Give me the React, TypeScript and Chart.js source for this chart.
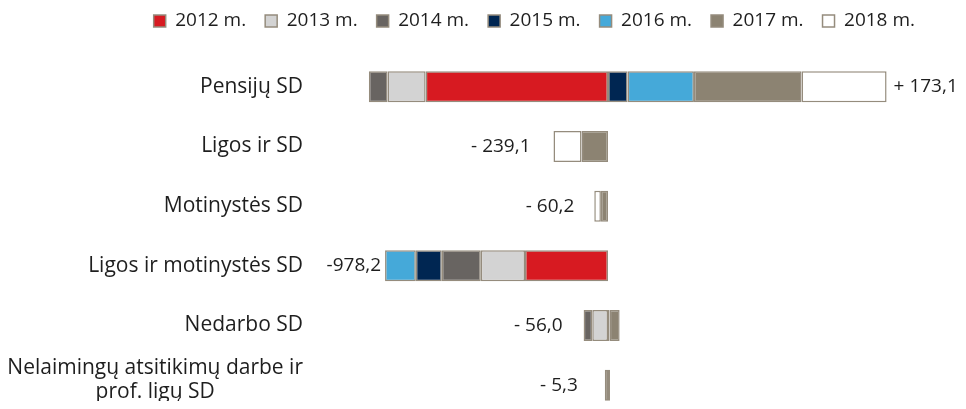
import React, { useEffect, useRef } from 'react';
import { Chart, registerables } from 'chart.js';

Chart.register(...registerables);

const categories: (string | string[])[] = [
  'Pensijų SD',
  'Ligos ir SD',
  'Motinystės SD',
  'Ligos ir motinystės SD',
  'Nedarbo SD',
  ['Nelaimingų atsitikimų darbe ir', 'prof. ligų SD'],
];

const seriesNames = ['2012 m.', '2013 m.', '2014 m.', '2015 m.', '2016 m.', '2017 m.', '2018 m.'];

const y2012 = [-800, null, null, -364, null, null];
const y2013 = [-167, null, null, -194, -69, null];
const y2014 = [-82, null, null, -171, -38, null];
const y2015 = [86, null, null, -114, null, null];
const y2016 = [291, null, null, -135, 7, null];
const y2017 = [472, -116.1, -31.2, null, 44, -14];
const y2018 = [373, -123, -29, null, null, 8.7];

const netLabels = ['+ 173,1', '- 239,1', '- 60,2', '-978,2', '- 56,0', '- 5,3'];

const FONT = '"Open Sans", "Noto Sans", sans-serif';
const TEXT = '#1e1e1e';
const BORDER = '#958c7d';
const colors = ['#d71a21', '#d3d3d3', '#686461', '#002652', '#45a9d9', '#8c8372', '#ffffff'];
const seriesValues = [y2012, y2013, y2014, y2015, y2016, y2017, y2018];

const labelGaps = [7, 23, 20, 4, 21, 27];

const overlayPlugin = {
  id: 'overlayText',
  afterDraw(chart: any) {
    const ctx = chart.ctx;
    const xs = chart.scales.x;
    const ys = chart.scales.y;
    ctx.save();
    ctx.fillStyle = TEXT;
    ctx.textBaseline = 'middle';
    // category labels
    ctx.font = `21px ${FONT}`;
    const right = chart.chartArea.left - 5;
    categories.forEach((c, i) => {
      const y = ys.getPixelForValue(i);
      const lines = Array.isArray(c) ? c : [c];
      const widths = lines.map((l) => ctx.measureText(l).width);
      const w = Math.max(...widths);
      const lh = 24;
      const y0 = y - ((lines.length - 1) * lh) / 2 - (lines.length > 1 ? 5 : 0);
      ctx.textAlign = 'center';
      lines.forEach((l, k) => {
        ctx.fillText(l, right - w / 2, y0 + k * lh);
      });
    });
    // net labels
    ctx.font = `19px ${FONT}`;
    netLabels.forEach((t, i) => {
      let neg = 0;
      let pos = 0;
      seriesValues.forEach((s) => {
        const v = s[i];
        if (v == null) return;
        if (v < 0) neg += v;
        else pos += v;
      });
      const y = ys.getPixelForValue(i);
      if (t.startsWith('+')) {
        ctx.textAlign = 'left';
        ctx.fillText(t, xs.getPixelForValue(pos) + labelGaps[i], y);
      } else {
        ctx.textAlign = 'right';
        ctx.fillText(t, xs.getPixelForValue(neg) - labelGaps[i], y);
      }
    });
    ctx.restore();
  },
};

export default function App() {
  const ref = useRef<HTMLCanvasElement | null>(null);
  useEffect(() => {
    if (!ref.current) return;
    const chart = new Chart(ref.current, {
      type: 'bar',
      data: {
        labels: categories as any,
        datasets: seriesNames.map((name, k) => ({
          label: name,
          data: seriesValues[k] as any,
          backgroundColor: colors[k],
          borderColor: BORDER,
          borderWidth: 1.5,
          borderSkipped: false,
          categoryPercentage: 0.52,
          barPercentage: 1,
        })),
      },
      options: {
        indexAxis: 'y',
        animation: false,
        responsive: true,
        maintainAspectRatio: false,
        layout: { padding: { top: -15.5, right: 32, bottom: 0, left: 0 } },
        font: { family: FONT },
        plugins: {
          tooltip: { enabled: false },
          legend: {
            position: 'top',
            align: 'end',
            labels: {
              boxWidth: 12,
              boxHeight: 12,
              padding: 19,
              color: TEXT,
              font: { family: FONT, size: 19 },
            },
          },
        },
        scales: {
          x: {
            position: 'top',
            stacked: true,
            min: -1316,
            max: 1430,
            ticks: { display: false, stepSize: 500 },
            border: { display: false },
            grid: {
              drawTicks: false,
              lineWidth: 1.5,
              color: (c: any) => (c.tick && c.tick.value === 0 ? '#d9d9d9' : 'rgba(0,0,0,0)'),
            },
            afterFit: (s: any) => {
              s.height = 16.5;
            },
          },
          y: {
            stacked: true,
            ticks: { display: false },
            grid: { display: false, drawTicks: false },
            border: { display: false },
            afterFit: (s: any) => {
              s.width = 300;
            },
          },
        },
      } as any,
      plugins: [overlayPlugin],
    });
    return () => chart.destroy();
  }, []);
  return (
    <div style={{ width: '958px', height: '401px', overflow: 'hidden', marginBottom: '-8px' }}>
      <div style={{ position: 'relative', width: '958px', height: '407px' }}>
        <canvas ref={ref} />
      </div>
    </div>
  );
}
